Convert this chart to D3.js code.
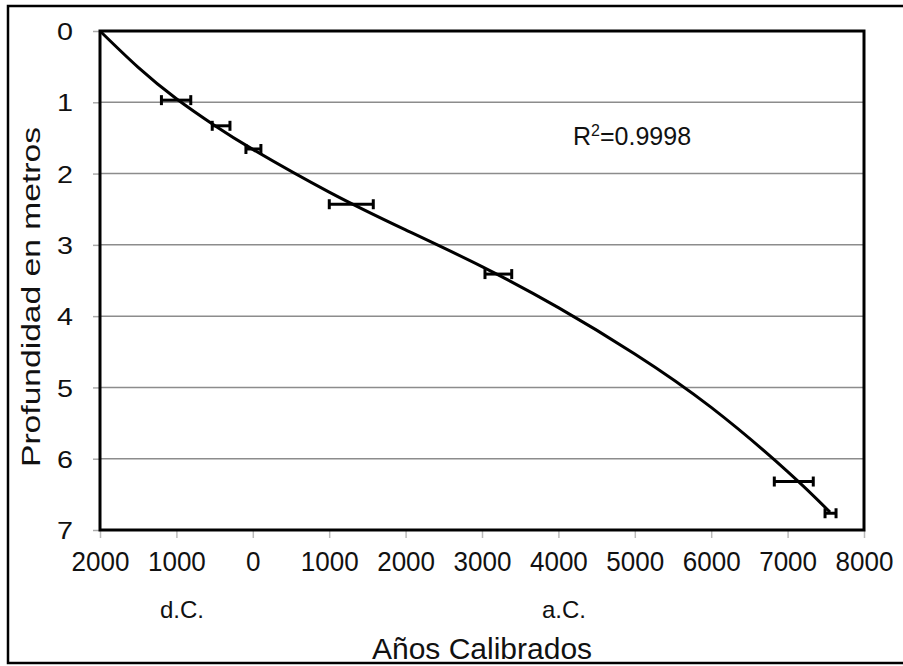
<!DOCTYPE html>
<html>
<head>
<meta charset="utf-8">
<script src="https://cdn.jsdelivr.net/npm/d3@7"></script>
<style>
  body { margin: 0; background: #fff; }
  text { font-family: "Liberation Sans", Arial, sans-serif; fill: #111; }
</style>
</head>
<body>
<div id="chart"></div>
<script>
// years: negative = d.C. (AD), positive = a.C. (BC)
const sampleAges = [-1004, -415, 8, 1289, 3214, 7081, 7562];
const sampleDepths = [0.97, 1.33, 1.655, 2.43, 3.41, 6.32, 6.765];
const sampleErrors = [192, 116, 98, 288, 175, 255, 72];

// trend curve
const curveAges = [-2000, -1500, -1000, -500, 0, 1000, 2000, 3000, 4000, 5000, 6000, 7000, 7555];
const curveDepths = [0, 0.51, 0.95, 1.325, 1.66, 2.26, 2.79, 3.305, 3.88, 4.53, 5.28, 6.18, 6.75];

const xTicks = [-2000, -1000, 0, 1000, 2000, 3000, 4000, 5000, 6000, 7000, 8000];
const yTicks = [0, 1, 2, 3, 4, 5, 6, 7];
const rSquared = "0.9998";

const W = 903, H = 666;
const margin = { top: 31, right: 39, bottom: 136, left: 100 };
const width = W - margin.left - margin.right;
const height = H - margin.top - margin.bottom;

const svg = d3.select("#chart")
  .append("svg")
  .attr("width", W)
  .attr("height", H);

const g = svg.append("g")
  .attr("transform", `translate(${margin.left},${margin.top})`);

const xScale = d3.scaleLinear().domain([-2000, 8000]).range([0, width]);
const yScale = d3.scaleLinear().domain([0, 7]).range([0, height]);

// gridlines
g.selectAll("line.grid")
  .data(yTicks.slice(1, -1))
  .enter()
  .append("line")
  .attr("class", "grid")
  .attr("x1", 0)
  .attr("x2", width)
  .attr("y1", d => yScale(d))
  .attr("y2", d => yScale(d))
  .style("stroke", "#8c8c8c")
  .style("stroke-width", 1.5);

// y axis
const yAxis = d3.axisLeft(yScale)
  .tickValues(yTicks)
  .tickSize(7)
  .tickPadding(20)
  .tickFormat(d3.format("d"));
const yG = g.append("g").attr("class", "y-axis").call(yAxis);
yG.select(".domain").remove();
yG.selectAll(".tick line").style("stroke", "#aaa").style("stroke-width", 1.5);
yG.selectAll(".tick text")
  .style("font-size", "24px")
  .attr("textLength", 16)
  .attr("lengthAdjust", "spacingAndGlyphs")
  .attr("dy", "0.36em");

// x axis
const xAxis = d3.axisBottom(xScale)
  .tickValues(xTicks)
  .tickSize(8)
  .tickPadding(16)
  .tickFormat(d => Math.abs(d));
const xG = g.append("g")
  .attr("class", "x-axis")
  .attr("transform", `translate(0,${height})`)
  .call(xAxis);
xG.select(".domain").remove();
xG.selectAll(".tick line").style("stroke", "#bbb").style("stroke-width", 1.5);
xG.selectAll(".tick text")
  .style("font-size", "28px")
  .attr("dy", "0.62em")
  .attr("transform", "scale(0.93,1)");

// trend curve
const line = d3.line()
  .x((d, i) => xScale(curveAges[i]))
  .y((d, i) => yScale(curveDepths[i]))
  .curve(d3.curveNatural);

g.append("path")
  .datum(curveAges)
  .attr("d", line)
  .style("fill", "none")
  .style("stroke", "#000")
  .style("stroke-width", 3);

// error bars
const bars = g.selectAll("g.err")
  .data(sampleAges)
  .enter()
  .append("g")
  .attr("class", "err");

bars.append("line")
  .attr("x1", (d, i) => xScale(d - sampleErrors[i]))
  .attr("x2", (d, i) => xScale(d + sampleErrors[i]))
  .attr("y1", (d, i) => yScale(sampleDepths[i]))
  .attr("y2", (d, i) => yScale(sampleDepths[i]))
  .style("stroke", "#000")
  .style("stroke-width", 3);

[-1, 1].forEach(side => {
  bars.append("line")
    .attr("x1", (d, i) => xScale(d + side * sampleErrors[i]))
    .attr("x2", (d, i) => xScale(d + side * sampleErrors[i]))
    .attr("y1", (d, i) => yScale(sampleDepths[i]) - 5)
    .attr("y2", (d, i) => yScale(sampleDepths[i]) + 5)
    .style("stroke", "#000")
    .style("stroke-width", 3);
});

// plot frame
g.append("rect")
  .attr("x", 0)
  .attr("y", 0)
  .attr("width", width)
  .attr("height", height)
  .style("fill", "none")
  .style("stroke", "#000")
  .style("stroke-width", 3);

// R squared label
const rText = g.append("text")
  .attr("x", 473)
  .attr("y", 114)
  .style("font-size", "25px");
rText.append("tspan").text("R");
rText.append("tspan").attr("dy", -9).style("font-size", "16px").text("2");
rText.append("tspan").attr("dy", 9).text("=" + rSquared);

// era labels
svg.append("text")
  .attr("x", 182)
  .attr("y", 618)
  .style("text-anchor", "middle")
  .style("font-size", "24px")
  .text("d.C.");

svg.append("text")
  .attr("x", 564)
  .attr("y", 618)
  .style("text-anchor", "middle")
  .style("font-size", "24px")
  .text("a.C.");

// outer frame (right side runs off the page)
svg.append("rect")
  .attr("x", 8)
  .attr("y", 6)
  .attr("width", W + 10)
  .attr("height", 657)
  .style("fill", "none")
  .style("stroke", "#000")
  .style("stroke-width", 2.5);

// axis titles
svg.append("text")
  .attr("x", 482)
  .attr("y", 659)
  .style("text-anchor", "middle")
  .style("font-size", "30px")
  .text("Años Calibrados");

svg.append("text")
  .attr("transform", "rotate(-90)")
  .attr("x", -297)
  .attr("y", 40)
  .style("text-anchor", "middle")
  .style("font-size", "26px")
  .attr("textLength", 340)
  .attr("lengthAdjust", "spacingAndGlyphs")
  .text("Profundidad en metros");
</script>
</body>
</html>
